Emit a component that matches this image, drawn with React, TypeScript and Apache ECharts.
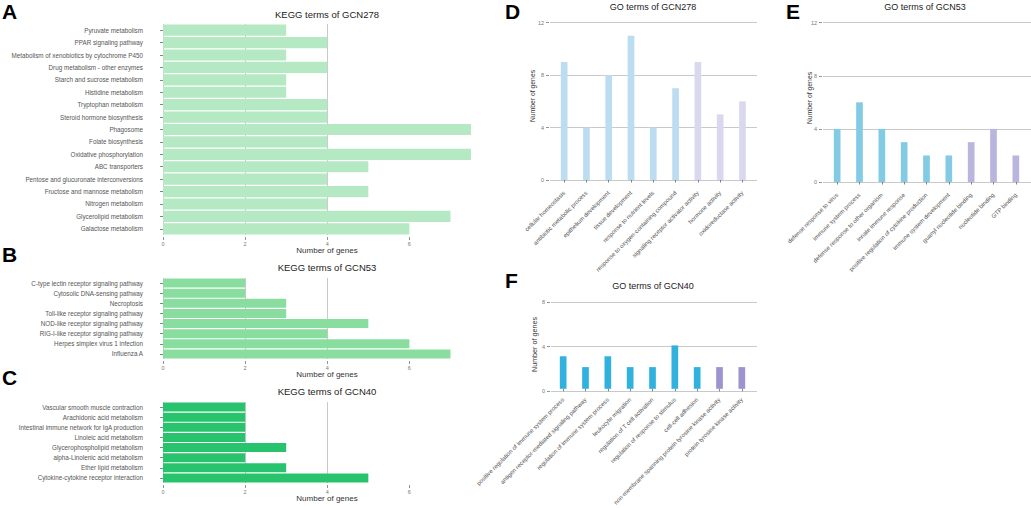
import React, { useEffect, useRef } from "react";
import * as echarts from "echarts";

// ---------- data ----------
const keggACategories = [
  "Pyruvate metabolism",
  "PPAR signaling pathway",
  "Metabolism of xenobiotics by cytochrome P450",
  "Drug metabolism - other enzymes",
  "Starch and sucrose metabolism",
  "Histidine metabolism",
  "Tryptophan metabolism",
  "Steroid hormone biosynthesis",
  "Phagosome",
  "Folate biosynthesis",
  "Oxidative phosphorylation",
  "ABC transporters",
  "Pentose and glucuronate interconversions",
  "Fructose and mannose metabolism",
  "Nitrogen metabolism",
  "Glycerolipid metabolism",
  "Galactose metabolism",
];
const keggAValues = [3, 4, 3, 4, 3, 3, 4, 4, 8, 4, 8, 5, 4, 5, 4, 7, 6];

const keggBCategories = [
  "C-type lectin receptor signaling pathway",
  "Cytosolic DNA-sensing pathway",
  "Necroptosis",
  "Toll-like receptor signaling pathway",
  "NOD-like receptor signaling pathway",
  "RIG-I-like receptor signaling pathway",
  "Herpes simplex virus 1 infection",
  "Influenza A",
];
const keggBValues = [2, 2, 3, 3, 5, 4, 6, 7];

const keggCCategories = [
  "Vascular smooth muscle contraction",
  "Arachidonic acid metabolism",
  "Intestinal immune network for IgA production",
  "Linoleic acid metabolism",
  "Glycerophospholipid metabolism",
  "alpha-Linolenic acid metabolism",
  "Ether lipid metabolism",
  "Cytokine-cytokine receptor interaction",
];
const keggCValues = [2, 2, 2, 2, 3, 2, 3, 5];

const keggTicks = [0, 2, 4, 6];

const goDCategories = [
  "cellular homeostasis",
  "antibiotic metabolic process",
  "epithelium development",
  "tissue development",
  "response to nutrient levels",
  "response to oxygen-containing compound",
  "signaling receptor activator activity",
  "hormone activity",
  "oxidoreductase activity",
];
const goDValues = [9, 4, 8, 11, 4, 7, 9, 5, 6];
const goDGroups = ["BP", "BP", "BP", "BP", "BP", "BP", "MF", "MF", "MF"];

const goECategories = [
  "defense response to virus",
  "immune system process",
  "defense response to other organism",
  "innate immune response",
  "positive regulation of cytokine production",
  "immune system development",
  "guanyl nucleotide binding",
  "nucleotide binding",
  "GTP binding",
];
const goEValues = [4, 6, 4, 3, 2, 2, 3, 4, 2];
const goEGroups = ["BP", "BP", "BP", "BP", "BP", "BP", "MF", "MF", "MF"];

const goFCategories = [
  "positive regulation of immune system process",
  "antigen receptor-mediated signaling pathway",
  "regulation of immune system process",
  "leukocyte migration",
  "regulation of T cell activation",
  "regulation of response to stimulus",
  "cell-cell adhesion",
  "non-membrane spanning protein tyrosine kinase activity",
  "protein tyrosine kinase activity",
];
const goFValues = [3, 2, 3, 2, 2, 4, 2, 2, 2];
const goFGroups = ["BP", "BP", "BP", "BP", "BP", "BP", "BP", "MF", "MF"];

const goTicksDE = [0, 4, 8, 12];
const goTicksF = [0, 4, 8];

// ---------- styling ----------
const FONT = "'Liberation Sans', Arial, Helvetica, sans-serif";
const GRID_COLOR = "#c9c9c9";
const LABEL_COLOR = "#555";
const TICK_COLOR = "#777";

function buildOption() {
  const grid: any[] = [];
  const xAxis: any[] = [];
  const yAxis: any[] = [];
  const series: any[] = [];

  const addKegg = (
    rect: { left: number; top: number; width: number; height: number },
    cats: string[],
    vals: number[],
    color: string
  ) => {
    const gi = grid.length;
    grid.push({ ...rect, containLabel: false });
    xAxis.push({
      type: "value",
      gridIndex: gi,
      min: 0,
      max: 7.5,
      interval: 2,
      offset: 2,
      axisLine: { show: false },
      axisTick: {
        show: true,
        length: 3,
        customValues: keggTicks,
        lineStyle: { color: TICK_COLOR, width: 0.8 },
      },
      axisLabel: {
        fontSize: 5.5,
        color: TICK_COLOR,
        margin: 4,
        fontFamily: FONT,
        customValues: keggTicks,
      },
      splitLine: {
        show: true,
        showMaxLine: false,
        lineStyle: { color: GRID_COLOR, width: 1 },
      },
    });
    yAxis.push({
      type: "category",
      gridIndex: gi,
      data: cats,
      inverse: true,
      offset: 16,
      axisLine: { show: false },
      axisTick: {
        show: true,
        alignWithLabel: true,
        length: 3,
        lineStyle: { color: "#666", width: 0.8 },
      },
      axisLabel: {
        fontSize: 6.3,
        color: LABEL_COLOR,
        margin: 4,
        interval: 0,
        fontFamily: FONT,
      },
      splitLine: { show: false },
    });
    series.push({
      type: "bar",
      xAxisIndex: gi,
      yAxisIndex: gi,
      data: vals,
      barCategoryGap: "10%",
      clip: true,
      itemStyle: { color },
    });
  };

  const addGo = (
    wide: { left: number; width: number },
    narrow: { left: number; width: number },
    top: number,
    height: number,
    max: number,
    ticks: number[],
    cats: string[],
    vals: number[],
    groups: string[],
    colors: Record<string, string>,
    xOffset: number
  ) => {
    const wi = grid.length;
    grid.push({ left: wide.left, width: wide.width, top, height });
    xAxis.push({ type: "category", gridIndex: wi, data: cats, show: false });
    yAxis.push({
      type: "value",
      gridIndex: wi,
      min: 0,
      max,
      interval: 4,
      offset: 1,
      axisLine: { show: false },
      axisTick: {
        show: true,
        length: 3,
        customValues: ticks,
        lineStyle: { color: TICK_COLOR, width: 0.8 },
      },
      axisLabel: {
        fontSize: 5.5,
        color: TICK_COLOR,
        margin: 5,
        fontFamily: FONT,
        customValues: ticks,
      },
      splitLine: { show: true, lineStyle: { color: GRID_COLOR, width: 1 } },
    });
    const ni = grid.length;
    grid.push({ left: narrow.left, width: narrow.width, top, height });
    xAxis.push({
      type: "category",
      gridIndex: ni,
      data: cats,
      offset: xOffset,
      axisLine: { show: false },
      axisTick: {
        show: true,
        alignWithLabel: true,
        length: 2.5,
        lineStyle: { color: "#666", width: 0.8 },
      },
      axisLabel: {
        rotate: 45,
        fontSize: 6,
        color: LABEL_COLOR,
        interval: 0,
        margin: 4,
        fontFamily: FONT,
      },
      splitLine: { show: false },
    });
    yAxis.push({ type: "value", gridIndex: ni, min: 0, max, show: false });
    series.push({
      type: "bar",
      xAxisIndex: ni,
      yAxisIndex: ni,
      barWidth: "30%",
      data: vals.map((v, i) => ({
        value: v,
        itemStyle: { color: colors[groups[i]] },
      })),
    });
  };

  addKegg({ left: 163, top: 24, width: 308, height: 211 }, keggACategories, keggAValues, "#b5e9c3");
  addKegg({ left: 163, top: 278, width: 308, height: 81 }, keggBCategories, keggBValues, "#88dd9f");
  addKegg({ left: 163, top: 402, width: 308, height: 81 }, keggCCategories, keggCValues, "#28c46d");

  addGo(
    { left: 550, width: 207 },
    { left: 553, width: 200.6 },
    22.7,
    157.3,
    12,
    goTicksDE,
    goDCategories,
    goDValues,
    goDGroups,
    { BP: "#bcdcf2", MF: "#dad8ee" },
    8
  );
  addGo(
    { left: 823, width: 208 },
    { left: 826, width: 201 },
    22.7,
    159.3,
    12,
    goTicksDE,
    goECategories,
    goEValues,
    goEGroups,
    { BP: "#83cbe5", MF: "#b8b6de" },
    8
  );
  addGo(
    { left: 551, width: 206 },
    { left: 552, width: 201 },
    302,
    89,
    8,
    goTicksF,
    goFCategories,
    goFValues,
    goFGroups,
    { BP: "#31b2de", MF: "#9d93cf" },
    6
  );

  const txt = (
    text: string,
    x: number,
    y: number,
    fontSize: number,
    opts: any = {}
  ) => ({
    type: "text",
    x,
    y,
    rotation: opts.rotation || 0,
    silent: true,
    style: {
      text,
      fontSize,
      fontFamily: FONT,
      fontWeight: opts.bold ? "bold" : "normal",
      fill: opts.fill || "#222",
      align: opts.align || "center",
      verticalAlign: "middle",
    },
  });

  const graphic = [
    // panel letters
    txt("A", 2, 11, 21, { bold: true, align: "left", fill: "#000" }),
    txt("B", 2, 254, 21, { bold: true, align: "left", fill: "#000" }),
    txt("C", 2, 377, 21, { bold: true, align: "left", fill: "#000" }),
    txt("D", 505, 11, 21, { bold: true, align: "left", fill: "#000" }),
    txt("E", 786, 11, 21, { bold: true, align: "left", fill: "#000" }),
    txt("F", 505, 280, 21, { bold: true, align: "left", fill: "#000" }),
    // titles
    txt("KEGG terms of GCN278", 327, 14, 9.5),
    txt("KEGG terms of GCN53", 327, 267.5, 9.5),
    txt("KEGG terms of GCN40", 327, 391, 9.5),
    txt("GO terms of GCN278", 653, 6.5, 9),
    txt("GO terms of GCN53", 925, 6.5, 9),
    txt("GO terms of GCN40", 653, 286, 9),
    // axis names
    txt("Number of genes", 327, 250.5, 8, { fill: "#333" }),
    txt("Number of genes", 327, 374.5, 8, { fill: "#333" }),
    txt("Number of genes", 327, 498, 8, { fill: "#333" }),
    txt("Number of genes", 532.5, 96, 6.8, { fill: "#333", rotation: Math.PI / 2 }),
    txt("Number of genes", 809, 98, 6.8, { fill: "#333", rotation: Math.PI / 2 }),
    txt("Number of genes", 534, 344.5, 7.2, { fill: "#333", rotation: Math.PI / 2 }),
  ];

  return {
    animation: false,
    backgroundColor: "#ffffff",
    textStyle: { fontFamily: FONT },
    grid,
    xAxis,
    yAxis,
    series,
    graphic,
  };
}

export default function App() {
  const ref = useRef<HTMLDivElement>(null);
  useEffect(() => {
    if (!ref.current) return;
    const chart = echarts.init(ref.current, undefined, { renderer: "svg" });
    chart.setOption(buildOption() as any);
    return () => {
      chart.dispose();
    };
  }, []);
  return (
    <div
      ref={ref}
      style={{
        position: "fixed",
        left: 0,
        top: 0,
        width: 1031,
        height: 508,
        background: "#fff",
      }}
    />
  );
}
